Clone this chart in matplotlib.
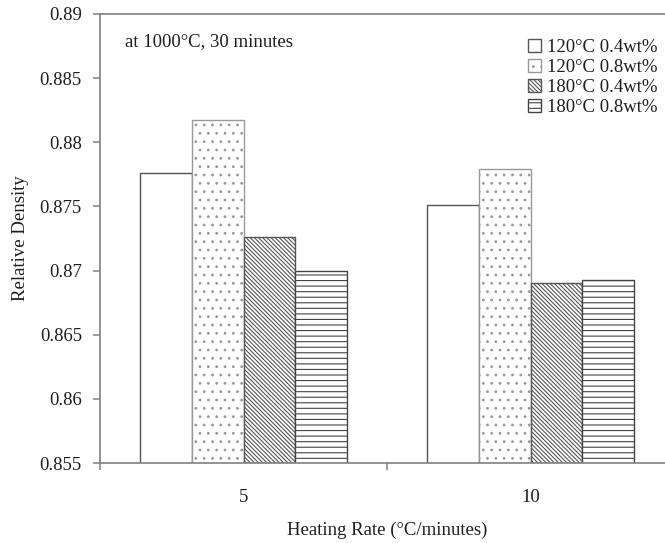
import numpy as np
import matplotlib
matplotlib.use("Agg")
import matplotlib.pyplot as plt

# data
heating_rates = ["5", "10"]
series_labels = ["120\u00b0C 0.4wt%", "120\u00b0C 0.8wt%", "180\u00b0C 0.4wt%", "180\u00b0C 0.8wt%"]
dens_120_04 = [0.8776, 0.8751]
dens_120_08 = [0.8817, 0.8779]
dens_180_04 = [0.8726, 0.8690]
dens_180_08 = [0.8700, 0.8693]

hatches = ["", "..", "\\" * 8, "---"]
edges = ["#555555", "#999999", "#555555", "#444444"]

plt.rcParams['font.family'] = ['Liberation Serif', 'DejaVu Serif']
plt.rcParams['hatch.linewidth'] = 0.8
text_col = "#1e1e1e"


def main():
    fig = plt.figure(figsize=(6.65, 5.43), dpi=100)
    # right spine lies just outside the picture in the reference
    ax = fig.add_axes([100 / 665, 80 / 543, 574 / 665, 449 / 543])

    x = np.arange(len(heating_rates))
    width = 0.181
    all_series = [dens_120_04, dens_120_08, dens_180_04, dens_180_08]
    for i, vals in enumerate(all_series):
        ax.bar(x + (i - 1.5) * width, vals, width, color="white",
               edgecolor=edges[i], hatch=hatches[i], linewidth=1.0,
               label=series_labels[i])

    ax.set_xlim(-0.5, 1.5)
    ax.set_ylim(0.855, 0.89)
    ax.set_yticks(np.arange(0.855, 0.8901, 0.005))
    ax.set_yticklabels(["0.855", "0.86", "0.865", "0.87", "0.875", "0.88", "0.885", "0.89"])

    # ticks at category boundaries, labels at centres
    ax.set_xticks([-0.5, 0.5, 1.5])
    ax.set_xticklabels([])
    ax.set_xticks(x, minor=True)
    ax.set_xticklabels(heating_rates, minor=True)
    ax.tick_params(axis="x", which="minor", length=0, pad=19)

    for s in ax.spines.values():
        s.set_color("#808080")
        s.set_linewidth(1.2)
    ax.tick_params(which="major", color="#808080", width=1.1, length=5)
    ax.tick_params(axis="y", pad=8)
    ax.tick_params(which="both", labelsize=13.5, labelcolor=text_col)

    ax.set_xlabel("Heating Rate (\u00b0C/minutes)", fontsize=13.5, color=text_col, labelpad=11)
    ax.set_ylabel("Relative Density", fontsize=13.5, color=text_col, labelpad=8)

    fig.text(125 / 665, 1 - 42 / 543, "at 1000\u00b0C, 30 minutes", fontsize=13.5,
             color=text_col, va="center", ha="left")

    ax.legend(loc="upper left", bbox_to_anchor=(528 / 665, 1 - 39 / 543),
              bbox_transform=fig.transFigure, frameon=False, fontsize=13.5,
              handlelength=0.7, handleheight=0.7, handletextpad=0.3,
              labelspacing=0.15, borderpad=0, borderaxespad=0,
              labelcolor=text_col)

    fig.savefig("out.png", dpi=100)


if __name__ == "__main__":
    main()
